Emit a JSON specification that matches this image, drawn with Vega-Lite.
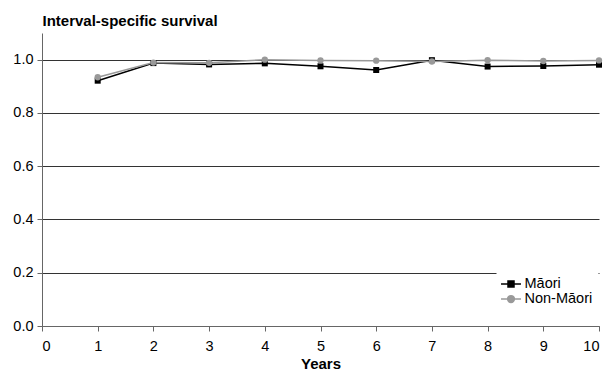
{
  "$schema": "https://vega.github.io/schema/vega-lite/v6.json",
  "width": 557,
  "height": 293,
  "autosize": "none",
  "padding": {"left": 42, "top": 33, "right": 8, "bottom": 47},
  "background": "white",
  "config": {
    "view": {"stroke": null},
    "font": "Liberation Sans",
    "axis": {
      "labelFont": "Liberation Sans",
      "labelFontSize": 14.5,
      "labelColor": "#000",
      "titleFont": "Liberation Sans",
      "titleFontSize": 15,
      "titleFontWeight": "bold",
      "titleColor": "#000",
      "domainColor": "#666",
      "tickColor": "#666",
      "tickSize": 5
    }
  },
  "data": {
    "values": [
      {"year": 1, "group": "Māori", "value": 0.921},
      {"year": 2, "group": "Māori", "value": 0.987},
      {"year": 3, "group": "Māori", "value": 0.982},
      {"year": 4, "group": "Māori", "value": 0.986},
      {"year": 5, "group": "Māori", "value": 0.975},
      {"year": 6, "group": "Māori", "value": 0.961},
      {"year": 7, "group": "Māori", "value": 0.998},
      {"year": 8, "group": "Māori", "value": 0.974},
      {"year": 9, "group": "Māori", "value": 0.976},
      {"year": 10, "group": "Māori", "value": 0.981},
      {"year": 1, "group": "Non-Māori", "value": 0.934},
      {"year": 2, "group": "Non-Māori", "value": 0.989},
      {"year": 3, "group": "Non-Māori", "value": 0.988},
      {"year": 4, "group": "Non-Māori", "value": 1.0},
      {"year": 5, "group": "Non-Māori", "value": 0.997},
      {"year": 6, "group": "Non-Māori", "value": 0.996},
      {"year": 7, "group": "Non-Māori", "value": 0.993},
      {"year": 8, "group": "Non-Māori", "value": 0.998},
      {"year": 9, "group": "Non-Māori", "value": 0.995},
      {"year": 10, "group": "Non-Māori", "value": 0.997}
    ]
  },
  "encoding": {
    "x": {
      "field": "year",
      "type": "quantitative",
      "scale": {"domain": [0, 10], "nice": false},
      "axis": {
        "title": "Years",
        "values": [0, 1, 2, 3, 4, 5, 6, 7, 8, 9, 10],
        "grid": false,
        "labelPadding": 8,
        "titleBaseline": "alphabetic",
        "titleY": 42
      }
    },
    "y": {
      "field": "value",
      "type": "quantitative",
      "scale": {"domain": [0, 1.1], "nice": false},
      "axis": {
        "title": "Interval-specific survival",
        "titleAngle": 0,
        "titleAlign": "left",
        "titleBaseline": "alphabetic",
        "titleX": 0,
        "titleY": -8,
        "values": [0, 0.2, 0.4, 0.6, 0.8, 1.0],
        "format": ".1f",
        "grid": true,
        "gridColor": "#333",
        "gridWidth": 1,
        "labelPadding": 4
      }
    },
    "color": {
      "field": "group",
      "type": "nominal",
      "scale": {"domain": ["Māori", "Non-Māori"], "range": ["#000000", "#999999"]},
      "legend": {
        "title": null,
        "orient": "none",
        "legendX": 454.5,
        "legendY": 236.5,
        "padding": 6,
        "fillColor": "white",
        "labelFont": "Liberation Sans",
        "labelFontSize": 14.5,
        "labelColor": "#000",
        "symbolSize": 225,
        "labelOffset": 5,
        "rowPadding": 0,
        "encode": {
          "symbols": {
            "update": {
              "shape": {"signal": "datum.value === 'Māori' ? 'M-1.33,0H1.33M-0.4,-0.4H0.4V0.4H-0.4Z' : 'M-1.33,0H1.33M-0.45,0A0.45,0.45,0,1,0,0.45,0A0.45,0.45,0,1,0,-0.45,0Z'"},
              "fill": {"signal": "datum.value === 'Māori' ? '#000000' : '#999999'"},
              "stroke": {"signal": "datum.value === 'Māori' ? '#000000' : '#aaaaaa'"},
              "strokeWidth": {"value": 1.5},
              "opacity": {"value": 1},
              "fillOpacity": {"value": 1}
            }
          }
        }
      }
    }
  },
  "layer": [
    {"mark": {"type": "line", "strokeWidth": 1.5}},
    {
      "transform": [{"filter": "datum.group === 'Māori'"}],
      "mark": {"type": "point", "filled": true, "opacity": 1, "size": 36, "shape": "square"}
    },
    {
      "transform": [{"filter": "datum.group === 'Non-Māori'"}],
      "mark": {"type": "point", "filled": true, "opacity": 1, "size": 40, "shape": "circle"}
    }
  ]
}
